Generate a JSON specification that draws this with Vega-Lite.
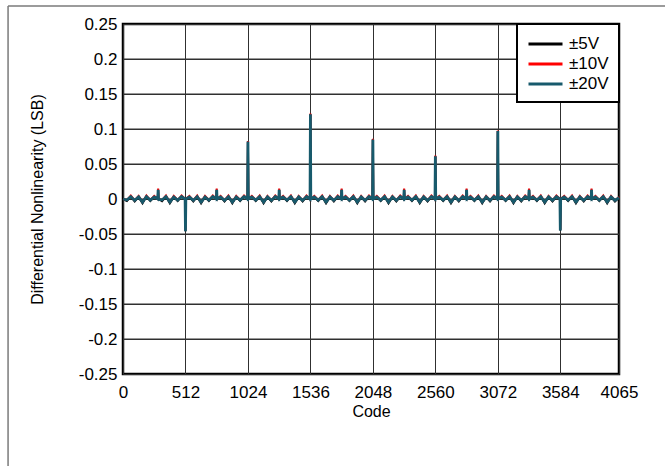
{
  "$schema": "https://vega.github.io/schema/vega-lite/v6.json",
  "width": 496,
  "height": 350,
  "autosize": "none",
  "padding": {"left": 123, "top": 24, "right": 46, "bottom": 92},
  "background": "#ffffff",
  "config": {
    "view": {"stroke": "#000000", "strokeWidth": 2.5},
    "font": "Liberation Sans",
    "axis": {
      "gridColor": "#303030", "gridWidth": 1, "gridOpacity": 1,
      "domain": false, "ticks": false, "labelFlush": false, "labelOverlap": false, "labelBound": false,
      "labelFont": "Liberation Sans", "titleFont": "Liberation Sans",
      "labelColor": "#000000", "titleColor": "#000000",
      "labelFontSize": 17, "titleFontSize": 16, "titleFontWeight": "normal"
    },
    "legend": {"labelFont": "Liberation Sans", "strokeWidth": 2}
  },
  "resolve": {"axis": {"x": "independent", "y": "independent"}},
  "data": {"values": [
    {"code": 0, "±5V": 0, "±10V": 0, "±20V": 0},
    {"code": 32, "±5V": -0.003, "±10V": -0.0015, "±20V": -0.0015},
    {"code": 64, "±5V": 0.0035, "±10V": 0.005, "±20V": 0.0035},
    {"code": 96, "±5V": -0.0035, "±10V": -0.002, "±20V": -0.002},
    {"code": 128, "±5V": 0.003, "±10V": 0.0045, "±20V": 0.003},
    {"code": 160, "±5V": -0.006, "±10V": -0.0045, "±20V": -0.0045},
    {"code": 192, "±5V": 0.0035, "±10V": 0.005, "±20V": 0.0035},
    {"code": 224, "±5V": -0.003, "±10V": -0.0015, "±20V": -0.0015},
    {"code": 256, "±5V": 0.003, "±10V": 0.0045, "±20V": 0.003},
    {"code": 285, "±5V": 0, "±10V": 0, "±20V": 0},
    {"code": 288, "±5V": 0.013, "±10V": 0.015, "±20V": 0.013},
    {"code": 291, "±5V": 0, "±10V": 0, "±20V": 0},
    {"code": 320, "±5V": -0.003, "±10V": -0.0015, "±20V": -0.0015},
    {"code": 352, "±5V": 0.0035, "±10V": 0.005, "±20V": 0.0035},
    {"code": 384, "±5V": -0.006, "±10V": -0.0045, "±20V": -0.0045},
    {"code": 416, "±5V": 0.003, "±10V": 0.0045, "±20V": 0.003},
    {"code": 448, "±5V": -0.003, "±10V": -0.0015, "±20V": -0.0015},
    {"code": 480, "±5V": 0.0035, "±10V": 0.005, "±20V": 0.0035},
    {"code": 509, "±5V": 0, "±10V": 0, "±20V": 0},
    {"code": 512, "±5V": -0.046, "±10V": -0.045, "±20V": -0.046},
    {"code": 515, "±5V": 0, "±10V": 0, "±20V": 0},
    {"code": 544, "±5V": 0.003, "±10V": 0.0045, "±20V": 0.003},
    {"code": 576, "±5V": -0.0035, "±10V": -0.002, "±20V": -0.002},
    {"code": 608, "±5V": 0.0035, "±10V": 0.005, "±20V": 0.0035},
    {"code": 640, "±5V": -0.006, "±10V": -0.0045, "±20V": -0.0045},
    {"code": 672, "±5V": 0.003, "±10V": 0.0045, "±20V": 0.003},
    {"code": 704, "±5V": -0.003, "±10V": -0.0015, "±20V": -0.0015},
    {"code": 736, "±5V": 0.0035, "±10V": 0.005, "±20V": 0.0035},
    {"code": 765, "±5V": 0, "±10V": 0, "±20V": 0},
    {"code": 768, "±5V": 0.013, "±10V": 0.015, "±20V": 0.013},
    {"code": 771, "±5V": 0, "±10V": 0, "±20V": 0},
    {"code": 800, "±5V": 0.003, "±10V": 0.0045, "±20V": 0.003},
    {"code": 832, "±5V": -0.0035, "±10V": -0.002, "±20V": -0.002},
    {"code": 864, "±5V": 0.0035, "±10V": 0.005, "±20V": 0.0035},
    {"code": 896, "±5V": -0.006, "±10V": -0.0045, "±20V": -0.0045},
    {"code": 928, "±5V": 0.003, "±10V": 0.0045, "±20V": 0.003},
    {"code": 960, "±5V": -0.003, "±10V": -0.0015, "±20V": -0.0015},
    {"code": 992, "±5V": 0.0035, "±10V": 0.005, "±20V": 0.0035},
    {"code": 1021, "±5V": 0, "±10V": 0, "±20V": 0},
    {"code": 1024, "±5V": 0.082, "±10V": 0.083, "±20V": 0.082},
    {"code": 1027, "±5V": 0, "±10V": 0, "±20V": 0},
    {"code": 1056, "±5V": 0.003, "±10V": 0.0045, "±20V": 0.003},
    {"code": 1088, "±5V": -0.003, "±10V": -0.0015, "±20V": -0.0015},
    {"code": 1120, "±5V": 0.0035, "±10V": 0.005, "±20V": 0.0035},
    {"code": 1152, "±5V": -0.006, "±10V": -0.0045, "±20V": -0.0045},
    {"code": 1184, "±5V": 0.003, "±10V": 0.0045, "±20V": 0.003},
    {"code": 1216, "±5V": -0.0035, "±10V": -0.002, "±20V": -0.002},
    {"code": 1248, "±5V": 0.0035, "±10V": 0.005, "±20V": 0.0035},
    {"code": 1277, "±5V": 0, "±10V": 0, "±20V": 0},
    {"code": 1280, "±5V": 0.013, "±10V": 0.015, "±20V": 0.013},
    {"code": 1283, "±5V": 0, "±10V": 0, "±20V": 0},
    {"code": 1312, "±5V": 0.003, "±10V": 0.0045, "±20V": 0.003},
    {"code": 1344, "±5V": -0.003, "±10V": -0.0015, "±20V": -0.0015},
    {"code": 1376, "±5V": 0.0035, "±10V": 0.005, "±20V": 0.0035},
    {"code": 1408, "±5V": -0.006, "±10V": -0.0045, "±20V": -0.0045},
    {"code": 1440, "±5V": 0.003, "±10V": 0.0045, "±20V": 0.003},
    {"code": 1472, "±5V": -0.0035, "±10V": -0.002, "±20V": -0.002},
    {"code": 1504, "±5V": 0.0035, "±10V": 0.005, "±20V": 0.0035},
    {"code": 1533, "±5V": 0, "±10V": 0, "±20V": 0},
    {"code": 1536, "±5V": 0.121, "±10V": 0.122, "±20V": 0.121},
    {"code": 1539, "±5V": 0, "±10V": 0, "±20V": 0},
    {"code": 1568, "±5V": 0.003, "±10V": 0.0045, "±20V": 0.003},
    {"code": 1600, "±5V": -0.003, "±10V": -0.0015, "±20V": -0.0015},
    {"code": 1632, "±5V": 0.0035, "±10V": 0.005, "±20V": 0.0035},
    {"code": 1664, "±5V": -0.006, "±10V": -0.0045, "±20V": -0.0045},
    {"code": 1696, "±5V": 0.003, "±10V": 0.0045, "±20V": 0.003},
    {"code": 1728, "±5V": -0.0035, "±10V": -0.002, "±20V": -0.002},
    {"code": 1760, "±5V": 0.0035, "±10V": 0.005, "±20V": 0.0035},
    {"code": 1789, "±5V": 0, "±10V": 0, "±20V": 0},
    {"code": 1792, "±5V": 0.013, "±10V": 0.015, "±20V": 0.013},
    {"code": 1795, "±5V": 0, "±10V": 0, "±20V": 0},
    {"code": 1824, "±5V": 0.003, "±10V": 0.0045, "±20V": 0.003},
    {"code": 1856, "±5V": -0.003, "±10V": -0.0015, "±20V": -0.0015},
    {"code": 1888, "±5V": 0.0035, "±10V": 0.005, "±20V": 0.0035},
    {"code": 1920, "±5V": -0.006, "±10V": -0.0045, "±20V": -0.0045},
    {"code": 1952, "±5V": 0.003, "±10V": 0.0045, "±20V": 0.003},
    {"code": 1984, "±5V": -0.0035, "±10V": -0.002, "±20V": -0.002},
    {"code": 2016, "±5V": 0.0035, "±10V": 0.005, "±20V": 0.0035},
    {"code": 2045, "±5V": 0, "±10V": 0, "±20V": 0},
    {"code": 2048, "±5V": 0.085, "±10V": 0.086, "±20V": 0.085},
    {"code": 2051, "±5V": 0, "±10V": 0, "±20V": 0},
    {"code": 2080, "±5V": 0.003, "±10V": 0.0045, "±20V": 0.003},
    {"code": 2112, "±5V": -0.003, "±10V": -0.0015, "±20V": -0.0015},
    {"code": 2144, "±5V": 0.0035, "±10V": 0.005, "±20V": 0.0035},
    {"code": 2176, "±5V": -0.006, "±10V": -0.0045, "±20V": -0.0045},
    {"code": 2208, "±5V": 0.003, "±10V": 0.0045, "±20V": 0.003},
    {"code": 2240, "±5V": -0.0035, "±10V": -0.002, "±20V": -0.002},
    {"code": 2272, "±5V": 0.0035, "±10V": 0.005, "±20V": 0.0035},
    {"code": 2301, "±5V": 0, "±10V": 0, "±20V": 0},
    {"code": 2304, "±5V": 0.013, "±10V": 0.015, "±20V": 0.013},
    {"code": 2307, "±5V": 0, "±10V": 0, "±20V": 0},
    {"code": 2336, "±5V": 0.003, "±10V": 0.0045, "±20V": 0.003},
    {"code": 2368, "±5V": -0.003, "±10V": -0.0015, "±20V": -0.0015},
    {"code": 2400, "±5V": 0.0035, "±10V": 0.005, "±20V": 0.0035},
    {"code": 2432, "±5V": -0.006, "±10V": -0.0045, "±20V": -0.0045},
    {"code": 2464, "±5V": 0.003, "±10V": 0.0045, "±20V": 0.003},
    {"code": 2496, "±5V": -0.0035, "±10V": -0.002, "±20V": -0.002},
    {"code": 2528, "±5V": 0.0035, "±10V": 0.005, "±20V": 0.0035},
    {"code": 2557, "±5V": 0, "±10V": 0, "±20V": 0},
    {"code": 2560, "±5V": 0.061, "±10V": 0.062, "±20V": 0.061},
    {"code": 2563, "±5V": 0, "±10V": 0, "±20V": 0},
    {"code": 2592, "±5V": 0.003, "±10V": 0.0045, "±20V": 0.003},
    {"code": 2624, "±5V": -0.003, "±10V": -0.0015, "±20V": -0.0015},
    {"code": 2656, "±5V": 0.0035, "±10V": 0.005, "±20V": 0.0035},
    {"code": 2688, "±5V": -0.006, "±10V": -0.0045, "±20V": -0.0045},
    {"code": 2720, "±5V": 0.003, "±10V": 0.0045, "±20V": 0.003},
    {"code": 2752, "±5V": -0.0035, "±10V": -0.002, "±20V": -0.002},
    {"code": 2784, "±5V": 0.0035, "±10V": 0.005, "±20V": 0.0035},
    {"code": 2813, "±5V": 0, "±10V": 0, "±20V": 0},
    {"code": 2816, "±5V": 0.013, "±10V": 0.015, "±20V": 0.013},
    {"code": 2819, "±5V": 0, "±10V": 0, "±20V": 0},
    {"code": 2848, "±5V": 0.003, "±10V": 0.0045, "±20V": 0.003},
    {"code": 2880, "±5V": -0.003, "±10V": -0.0015, "±20V": -0.0015},
    {"code": 2912, "±5V": 0.0035, "±10V": 0.005, "±20V": 0.0035},
    {"code": 2944, "±5V": -0.006, "±10V": -0.0045, "±20V": -0.0045},
    {"code": 2976, "±5V": 0.003, "±10V": 0.0045, "±20V": 0.003},
    {"code": 3008, "±5V": -0.0035, "±10V": -0.002, "±20V": -0.002},
    {"code": 3040, "±5V": 0.0035, "±10V": 0.005, "±20V": 0.0035},
    {"code": 3069, "±5V": 0, "±10V": 0, "±20V": 0},
    {"code": 3072, "±5V": 0.097, "±10V": 0.098, "±20V": 0.097},
    {"code": 3075, "±5V": 0, "±10V": 0, "±20V": 0},
    {"code": 3104, "±5V": 0.003, "±10V": 0.0045, "±20V": 0.003},
    {"code": 3136, "±5V": -0.003, "±10V": -0.0015, "±20V": -0.0015},
    {"code": 3168, "±5V": 0.0035, "±10V": 0.005, "±20V": 0.0035},
    {"code": 3200, "±5V": -0.006, "±10V": -0.0045, "±20V": -0.0045},
    {"code": 3232, "±5V": 0.003, "±10V": 0.0045, "±20V": 0.003},
    {"code": 3264, "±5V": -0.0035, "±10V": -0.002, "±20V": -0.002},
    {"code": 3296, "±5V": 0.0035, "±10V": 0.005, "±20V": 0.0035},
    {"code": 3325, "±5V": 0, "±10V": 0, "±20V": 0},
    {"code": 3328, "±5V": 0.013, "±10V": 0.015, "±20V": 0.013},
    {"code": 3331, "±5V": 0, "±10V": 0, "±20V": 0},
    {"code": 3360, "±5V": 0.003, "±10V": 0.0045, "±20V": 0.003},
    {"code": 3392, "±5V": -0.003, "±10V": -0.0015, "±20V": -0.0015},
    {"code": 3424, "±5V": 0.0035, "±10V": 0.005, "±20V": 0.0035},
    {"code": 3456, "±5V": -0.006, "±10V": -0.0045, "±20V": -0.0045},
    {"code": 3488, "±5V": 0.003, "±10V": 0.0045, "±20V": 0.003},
    {"code": 3520, "±5V": -0.0035, "±10V": -0.002, "±20V": -0.002},
    {"code": 3552, "±5V": 0.0035, "±10V": 0.005, "±20V": 0.0035},
    {"code": 3581, "±5V": 0, "±10V": 0, "±20V": 0},
    {"code": 3584, "±5V": -0.045, "±10V": -0.044, "±20V": -0.045},
    {"code": 3587, "±5V": 0, "±10V": 0, "±20V": 0},
    {"code": 3616, "±5V": 0.003, "±10V": 0.0045, "±20V": 0.003},
    {"code": 3648, "±5V": -0.003, "±10V": -0.0015, "±20V": -0.0015},
    {"code": 3680, "±5V": 0.0035, "±10V": 0.005, "±20V": 0.0035},
    {"code": 3712, "±5V": -0.006, "±10V": -0.0045, "±20V": -0.0045},
    {"code": 3744, "±5V": 0.003, "±10V": 0.0045, "±20V": 0.003},
    {"code": 3776, "±5V": -0.0035, "±10V": -0.002, "±20V": -0.002},
    {"code": 3808, "±5V": 0.0035, "±10V": 0.005, "±20V": 0.0035},
    {"code": 3837, "±5V": 0, "±10V": 0, "±20V": 0},
    {"code": 3840, "±5V": 0.013, "±10V": 0.015, "±20V": 0.013},
    {"code": 3843, "±5V": 0, "±10V": 0, "±20V": 0},
    {"code": 3872, "±5V": 0.003, "±10V": 0.0045, "±20V": 0.003},
    {"code": 3904, "±5V": -0.003, "±10V": -0.0015, "±20V": -0.0015},
    {"code": 3936, "±5V": 0.0035, "±10V": 0.005, "±20V": 0.0035},
    {"code": 3968, "±5V": -0.006, "±10V": -0.0045, "±20V": -0.0045},
    {"code": 4000, "±5V": 0.003, "±10V": 0.0045, "±20V": 0.003},
    {"code": 4032, "±5V": -0.0035, "±10V": -0.002, "±20V": -0.002},
    {"code": 4065, "±5V": 0.002, "±10V": 0.003, "±20V": 0.002}
  ]},
  "layer": [
    {
      "data": {"values": [
        {"level": -0.2}, {"level": -0.15}, {"level": -0.1}, {"level": -0.05}, {"level": 0},
        {"level": 0.05}, {"level": 0.1}, {"level": 0.15}, {"level": 0.2}
      ]},
      "mark": {"type": "rule", "color": "#303030", "strokeWidth": 1},
      "encoding": {
        "y": {"field": "level", "type": "quantitative", "axis": null}
      }
    },
    {
      "transform": [{"fold": ["±5V", "±10V", "±20V"], "as": ["range", "dnl"]}],
      "encoding": {
        "x": {
          "field": "code", "type": "quantitative",
          "scale": {"domain": [0, 4065], "nice": false, "zero": false},
          "axis": {
            "title": "Code", "values": [0, 512, 1024, 1536, 2048, 2560, 3072, 3584, 4065],
            "format": "d", "labelPadding": 10, "titlePadding": 3, "grid": true,
            "labelOverlap": false, "labelFlush": false
          }
        },
        "y": {
          "field": "dnl", "type": "quantitative",
          "scale": {"domain": [-0.25, 0.25], "nice": false, "zero": false},
          "axis": {
            "title": "Differential Nonlinearity (LSB)",
            "values": [-0.25, -0.2, -0.15, -0.1, -0.05, 0, 0.05, 0.1, 0.15, 0.2, 0.25],
            "labelExpr": "'' + datum.value", "labelPadding": 6, "titlePadding": 33,
            "grid": true, "gridColor": "#303030", "gridWidth": 1, "gridOpacity": 1,
            "labelOverlap": false, "labelFlush": false
          }
        },
        "color": {
          "field": "range", "type": "nominal",
          "scale": {"domain": ["±5V", "±10V", "±20V"], "range": ["#000000", "#ff0000", "#175a6c"]},
          "legend": {
            "title": null, "orient": "top-right", "offset": 0,
            "strokeColor": "#000000", "fillColor": "#ffffff",
            "padding": 10, "symbolType": "M-1,0H3", "symbolSize": 289, "symbolStrokeWidth": 3,
            "labelFontSize": 17, "labelOffset": 22, "rowPadding": 2, "labelColor": "#000000"
          }
        }
      },
      "layer": [
        {
          "transform": [{"filter": "datum.range === '±5V'"}],
          "mark": {"type": "line", "strokeWidth": 2}
        },
        {
          "transform": [{"filter": "datum.range === '±10V'"}],
          "mark": {"type": "line", "strokeWidth": 2}
        },
        {
          "transform": [{"filter": "datum.range === '±20V'"}],
          "mark": {"type": "line", "strokeWidth": 2.8}
        }
      ]
    },
    {
      "data": {"values": [{"frame": "outer"}]},
      "mark": {"type": "rule", "color": "#7a7a7a", "strokeWidth": 1.5, "clip": false},
      "encoding": {
        "x": {"datum": -942, "type": "quantitative", "axis": null},
        "y": {"datum": -0.4, "type": "quantitative", "axis": null},
        "y2": {"datum": 0.2757}
      }
    },
    {
      "data": {"values": [{"frame": "outer"}]},
      "mark": {"type": "rule", "color": "#7a7a7a", "strokeWidth": 1.5, "clip": false},
      "encoding": {
        "x": {"datum": -942, "type": "quantitative", "axis": null},
        "x2": {"datum": 4800},
        "y": {"datum": 0.2757, "type": "quantitative", "axis": null}
      }
    }
  ]
}
